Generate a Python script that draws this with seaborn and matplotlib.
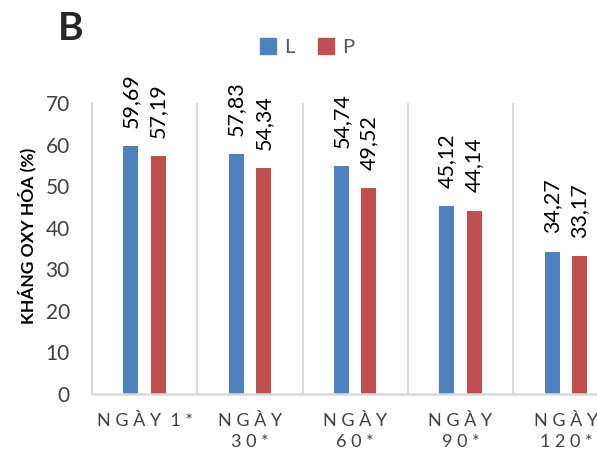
import numpy as np
import pandas as pd
import matplotlib
matplotlib.use("Agg")
import matplotlib.pyplot as plt
import seaborn as sns

# Data
days = ["N G À Y  1 *", "N G À Y\n3 0 *", "N G À Y\n6 0 *", "N G À Y\n9 0 *", "N G À Y\n1 2 0 *"]
l_values = [59.69, 57.83, 54.74, 45.12, 34.27]
p_values = [57.19, 54.34, 49.52, 44.14, 33.17]
groups = ["L", "P"]
colors = ["#4F81BD", "#C0504D"]
y_ticks = [0, 10, 20, 30, 40, 50, 60, 70]

df = pd.DataFrame({
    "day": days * 2,
    "group": ["L"] * len(days) + ["P"] * len(days),
    "value": l_values + p_values,
})

sns.set_style("white")
plt.rcParams["font.family"] = ["Lato", "DejaVu Sans"]

fig = plt.figure(figsize=(5.97, 4.61), dpi=100)
ax = fig.add_axes([92 / 597, 67 / 461, 526.5 / 597, 291 / 461])

sns.barplot(data=df, x="day", y="value", hue="group", order=days, hue_order=groups,
            palette=colors, width=0.52, gap=0.45, ax=ax, legend=False,
            edgecolor="none", saturation=1)

# value labels, rotated like the original
for cont in ax.containers:
    labels = [f"{v:.2f}".replace(".", ",") for v in cont.datavalues]
    ax.bar_label(cont, labels=labels, rotation=90, padding=13, fontsize=15.5, color="black")

ax.set_xlim(-0.5, 4.5)
ax.set_ylim(0, 70)
ax.set_yticks(y_ticks)
ax.set_xlabel("")
ax.set_ylabel("")

# separators between categories
ax.set_xticks(np.arange(-0.5, 5, 1), minor=True)
ax.grid(which="minor", axis="x", color="#D9D9D9", linewidth=1.5)
ax.tick_params(axis="x", which="minor", length=0)
ax.tick_params(axis="x", which="major", length=0, pad=14, labelsize=13, labelcolor="#404040")
ax.tick_params(axis="y", length=6, width=1.2, color="#D9D9D9", pad=10, labelsize=15, labelcolor="#404040")
for lab in ax.get_xticklabels():
    lab.set_linespacing(1.35)

for side in ["top", "right"]:
    ax.spines[side].set_visible(False)
ax.spines["left"].set_color("#D9D9D9")
ax.spines["left"].set_linewidth(1.5)
ax.spines["bottom"].set_color("#D9D9D9")
ax.spines["bottom"].set_linewidth(1.8)

fig.text(27 / 597, 1 - 236 / 461, "KHÁNG OXY HÓA (%)", rotation=90, ha="center", va="center",
         fontsize=12.5, fontweight="bold", color="black")
fig.text(71 / 597, 1 - 28 / 461, "B", ha="center", va="center", fontsize=28, fontweight="bold")

handles = [plt.Rectangle((0, 0), 1, 1, color=c) for c in colors]
fig.legend(handles, groups, loc="center", bbox_to_anchor=(307 / 597, 1 - 47 / 461), ncol=2,
           frameon=False, fontsize=14.5, labelcolor="#595959", handlelength=0.8, handleheight=0.8,
           handletextpad=0.4, columnspacing=1.2)

fig.savefig("out.png", dpi=100)
